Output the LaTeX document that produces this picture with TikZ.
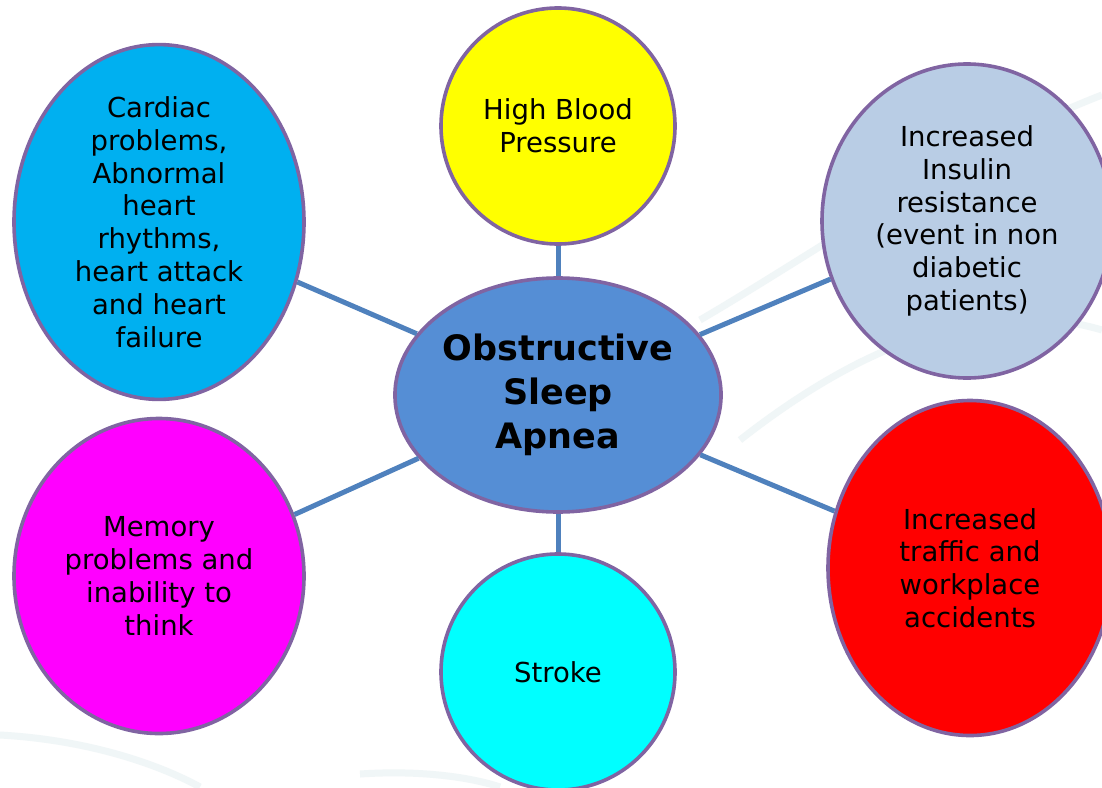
\documentclass[tikz,border=0pt]{standalone}
\usepackage{fontspec}
\setmainfont{DejaVu Sans}
\usepackage{xcolor}
\usetikzlibrary{
    shapes.geometric,
    positioning
}
\definecolor{rimpurple}{HTML}{8064A2}
\definecolor{linkblue}{HTML}{4F81BD}
\definecolor{hubblue}{HTML}{558ED5}
\definecolor{swoosh}{HTML}{F0F6F7}
\definecolor{bpyellow}{HTML}{FFFF00}
\definecolor{cardiacblue}{HTML}{00B0F0}
\definecolor{insulinblue}{HTML}{B9CDE5}
\definecolor{memorypink}{HTML}{FF00FF}
\definecolor{trafficred}{HTML}{FF0000}
\definecolor{strokecyan}{HTML}{00FFFF}

\tikzset{
    bubble/.style={ellipse, draw=rimpurple, line width=3.6pt, inner sep=0pt,
        align=center, font=\fontsize{27.5}{32.8}\selectfont},
    link/.style={draw=linkblue, line width=5pt}
}

\begin{document}
\begin{tikzpicture}[x=1pt, y=-1pt]
                        \useasboundingbox (0, 0) rectangle (1102, 787);
                        \clip (0, 0) rectangle (1102, 787);
                        \fill[white] (0, 0) rectangle (1102, 787);

                        % faint background swooshes
                        \draw[swoosh, line width=7pt]
                        (0, 735) .. controls (90, 740) and (160, 765) .. (200, 787)
                        (360, 774) .. controls (420, 770) and (470, 777) .. (500, 787)
                        (700, 320) .. controls (820, 250) and (960, 150) .. (1102, 95)
                        (740, 440) .. controls (880, 330) and (1000, 300) .. (1102, 330);

                        \node[bubble, fill=hubblue, minimum width=326pt, minimum height=234pt,
                            font=\fontsize{35}{44}\selectfont\bfseries] (osa) at (558, 395)
                            {Obstructive\\Sleep\\Apnea};

                        \node[bubble, fill=bpyellow, minimum width=234pt, minimum height=236pt]
                            (bp) at (558, 126) {High Blood\\Pressure};
                        \node[bubble, fill=cardiacblue, minimum width=290pt, minimum height=316pt]
                            (cardiac) at (159, 222)
                            {Cardiac\\problems,\\Abnormal\\heart\\rhythms,\\heart attack\\and heart\\failure};
                        \node[bubble, fill=insulinblue, minimum width=290pt, minimum height=314pt]
                            (insulin) at (967, 221)
                            {Increased\\Insulin\\resistance\\(event in non\\diabetic\\patients)};
                        \node[bubble, fill=memorypink, minimum width=290pt, minimum height=315pt]
                            (memory) at (159, 576)
                            {Memory\\problems and\\inability to\\think};
                        \node[bubble, fill=trafficred, minimum width=284pt, minimum height=335pt]
                            (traffic) at (970, 568)
                            {Increased\\traffic and\\workplace\\accidents};
                        \node[bubble, fill=strokecyan, minimum width=234pt, minimum height=236pt]
                            (stroke) at (558, 672) {Stroke};

                        \foreach \n in {bp, cardiac, insulin, memory, traffic, stroke} {
                            \draw[link] (osa) -- (\n);
                        }
                    \end{tikzpicture}
\end{document}
